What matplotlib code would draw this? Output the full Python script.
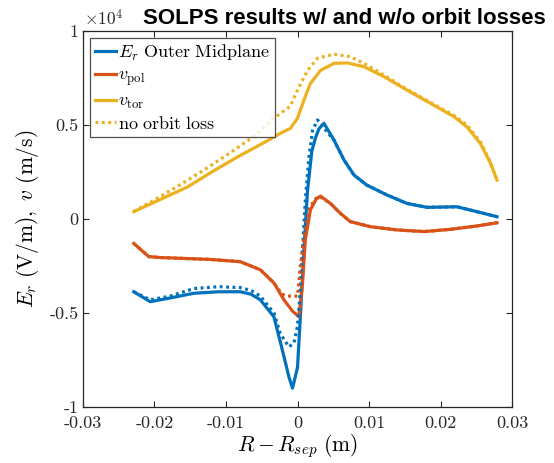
import matplotlib
matplotlib.use("Agg")
import matplotlib.pyplot as plt

plt.rcParams['mathtext.fontset'] = 'cm'
plt.rcParams['font.family'] = ['DejaVu Serif']
plt.rcParams['axes.unicode_minus'] = False

# ---- data (y values in units of 1e4) ----
er_x = [-0.0229, -0.0206, -0.0178, -0.0145, -0.0110, -0.0080, -0.0065, -0.0052, -0.0033,
        -0.0021, -0.0012, -0.0007, 0.0000, 0.0004, 0.0009, 0.0014, 0.0020, 0.0025, 0.0030,
        0.0037, 0.0051, 0.0065, 0.0079, 0.0097, 0.0125, 0.0153, 0.0181, 0.0223, 0.0251, 0.0279]
er_y = [-0.387, -0.44, -0.42, -0.395, -0.387, -0.387, -0.40, -0.43, -0.52,
        -0.70, -0.84, -0.90, -0.79, -0.52, -0.165, 0.15, 0.36, 0.43, 0.48,
        0.509, 0.42, 0.314, 0.234, 0.18, 0.128, 0.083, 0.062, 0.065, 0.039, 0.012]

er_nol_x = [-0.0229, -0.0206, -0.0178, -0.0145, -0.0110, -0.0080, -0.0065, -0.0052, -0.0033,
            -0.0024, -0.0012, -0.0005, 0.0000, 0.0003, 0.0007, 0.0011, 0.0016, 0.0021, 0.0028,
            0.0042, 0.0051, 0.0065, 0.0079, 0.0097, 0.0125, 0.0153, 0.0181, 0.0223, 0.0251, 0.0279]
er_nol_y = [-0.387, -0.43, -0.41, -0.37, -0.36, -0.365, -0.38, -0.41, -0.50,
            -0.61, -0.68, -0.66, -0.57, -0.43, -0.165, 0.10, 0.33, 0.47, 0.527,
            0.46, 0.42, 0.314, 0.234, 0.18, 0.128, 0.083, 0.062, 0.065, 0.039, 0.012]

vpol_x = [-0.0229, -0.0208, -0.0192, -0.0122, -0.0080, -0.0052, -0.0033, -0.0019, -0.0007,
          0.0002, 0.0007, 0.0011, 0.0018, 0.0026, 0.0032, 0.0046, 0.0060, 0.0074, 0.0102,
          0.0139, 0.0177, 0.0214, 0.0251, 0.0279]
vpol_y = [-0.13, -0.20, -0.205, -0.215, -0.227, -0.27, -0.34, -0.43, -0.49,
          -0.52, -0.34, -0.11, 0.048, 0.105, 0.122, 0.083, 0.03, -0.014, -0.041,
          -0.058, -0.067, -0.055, -0.037, -0.02]

vpol_nol_x = [-0.0229, -0.0208, -0.0192, -0.0122, -0.0080, -0.0052, -0.0033, -0.0022, -0.0014,
              0.0000, 0.0004, 0.0009, 0.0016, 0.0024, 0.0031, 0.0046, 0.0060, 0.0074, 0.0102,
              0.0139, 0.0177, 0.0214, 0.0251, 0.0279]
vpol_nol_y = [-0.13, -0.20, -0.205, -0.215, -0.227, -0.27, -0.34, -0.40, -0.41,
              -0.41, -0.25, -0.10, 0.05, 0.105, 0.12, 0.083, 0.03, -0.014, -0.041,
              -0.058, -0.067, -0.055, -0.037, -0.02]

vtor_x = [-0.0229, -0.0200, -0.0154, -0.0120, -0.0084, -0.0045, -0.0024, -0.0010, 0.0000,
          0.0009, 0.0018, 0.0032, 0.0051, 0.0070, 0.0093, 0.0121, 0.0153, 0.0186, 0.0219,
          0.0237, 0.0256, 0.0270, 0.0279]
vtor_y = [0.039, 0.09, 0.17, 0.25, 0.33, 0.41, 0.456, 0.482, 0.536,
          0.633, 0.72, 0.79, 0.828, 0.83, 0.81, 0.757, 0.686, 0.615, 0.544,
          0.49, 0.40, 0.296, 0.207]

vtor_nol_x = [-0.0229, -0.0201, -0.0165, -0.0131, -0.0095, -0.0061, -0.0035, -0.0010, 0.0000,
              0.0014, 0.0028, 0.0051, 0.0074, 0.0097, 0.0121, 0.0153, 0.0186, 0.0219,
              0.0237, 0.0256, 0.0270, 0.0279]
vtor_nol_y = [0.039, 0.10, 0.18, 0.26, 0.35, 0.44, 0.53, 0.60, 0.686,
              0.79, 0.855, 0.877, 0.863, 0.82, 0.765, 0.69, 0.62, 0.55,
              0.50, 0.41, 0.30, 0.207]

xticks = [-0.03, -0.02, -0.01, 0, 0.01, 0.02, 0.03]
xtick_labels = ['-0.03', '-0.02', '-0.01', '0', '0.01', '0.02', '0.03']
yticks = [-1, -0.5, 0, 0.5, 1]
ytick_labels = ['-1', '-0.5', '0', '0.5', '1']

c_blue = '#0072BD'
c_orange = '#D95319'
c_yellow = '#EDB120'

fig = plt.figure(figsize=(5.54, 4.63), dpi=100)
ax = fig.add_axes([83/554, 1-407/463, 429/554, 376/463])

lw = 2.3
dot = (0, (0.9, 1.1))
l1, = ax.plot(er_x, er_y, color=c_blue, lw=lw, label=r'$E_r\ \mathrm{Outer\ Midplane}$')
l2, = ax.plot(vpol_x, vpol_y, color=c_orange, lw=lw, label=r'$v_{\mathrm{pol}}$')
l3, = ax.plot(vtor_x, vtor_y, color=c_yellow, lw=lw, label=r'$v_{\mathrm{tor}}$')
l4, = ax.plot(vtor_nol_x, vtor_nol_y, color=c_yellow, lw=lw, ls=dot, label=r'$\mathrm{no\ orbit\ loss}$')
ax.plot(er_nol_x, er_nol_y, color=c_blue, lw=lw, ls=dot)
ax.plot(vpol_nol_x, vpol_nol_y, color=c_orange, lw=lw, ls=dot)

ax.set_xlim(-0.03, 0.03)
ax.set_ylim(-1, 1)
ax.set_xticks(xticks)
ax.set_xticklabels(xtick_labels, fontsize=13, fontfamily='cmr10')
ax.set_yticks(yticks)
ax.set_yticklabels(ytick_labels, fontsize=13, fontfamily='cmr10')
ax.tick_params(direction='in', top=True, right=True, length=4, width=0.8,
               colors='#262626')
ax.tick_params(axis='x', pad=6)
ax.tick_params(axis='y', pad=3)
for s in ax.spines.values():
    s.set_color('#262626')
    s.set_linewidth(0.9)

ax.set_xlabel(r'$R - R_{sep}\ \mathrm{(m)}$', fontsize=15.5, labelpad=1)
ax.set_ylabel(r'$E_r\ \mathrm{(V/m)},\ v\ \mathrm{(m/s)}$', fontsize=15.5, labelpad=6)

fig.text(84/554, 1-19/463, r'$\times 10^4$', fontsize=12.5, ha='left', va='center', color='#262626')
fig.text(344/554, 1-18/463, 'SOLPS results w/ and w/o orbit losses', fontsize=16,
         fontweight='bold', family='Liberation Sans', ha='center', va='center')

leg = ax.legend(handles=[l1, l2, l3, l4], loc='upper left',
                bbox_to_anchor=((90-83)/429, (407-38)/376), borderaxespad=0,
                fontsize=13, handlelength=1.2, handletextpad=0.12, labelspacing=0.2,
                frameon=True, fancybox=False, edgecolor='#262626', borderpad=0.25)
leg.get_frame().set_linewidth(0.9)

fig.savefig('out.png', dpi=100)
